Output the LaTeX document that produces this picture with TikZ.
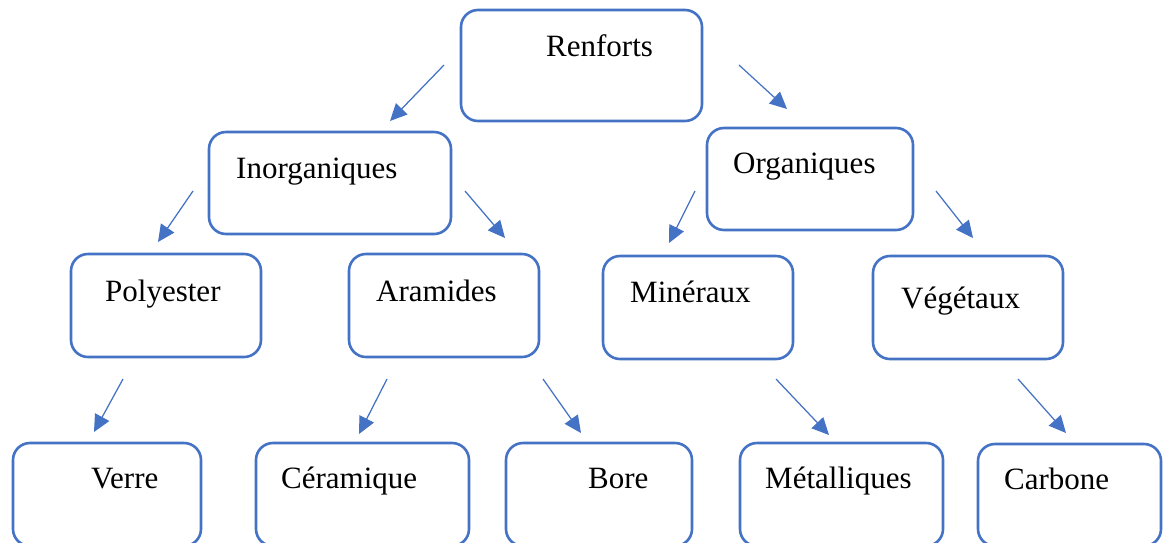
\documentclass[tikz,border=0pt]{standalone}
\usepackage{fontspec}
\setmainfont{Liberation Serif}
\usetikzlibrary{arrows.meta}
\definecolor{boxblue}{HTML}{4472C4}
\tikzset{
  box/.style={draw=boxblue, line width=2.6pt, rounded corners=17pt, fill=white, inner sep=0pt},
  txt/.style={anchor=base west, inner sep=0pt, font=\fontsize{31pt}{36pt}\selectfont},
  arr/.style={draw=boxblue, line width=1.25pt, -{Triangle[length=17pt,width=16pt]}}
}
\begin{document}
\begin{tikzpicture}[x=1pt,y=-1pt]
\useasboundingbox (0,0) rectangle (1164,542);
\clip (0,0) rectangle (1164,542);
\fill[white] (0,0) rectangle (1164,542);
% boxes
\node[box, minimum width=241pt, minimum height=111pt] (ren) at (581.5,65.5) {};
\node[box, minimum width=242pt, minimum height=102pt] (ino) at (330,183) {};
\node[box, minimum width=206pt, minimum height=102pt] (org) at (810,179) {};
\node[box, minimum width=190pt, minimum height=103pt] (pol) at (166,305.5) {};
\node[box, minimum width=190pt, minimum height=103pt] (ara) at (444,305.5) {};
\node[box, minimum width=190pt, minimum height=103pt] (min) at (698,307.5) {};
\node[box, minimum width=190pt, minimum height=103pt] (veg) at (968,307.5) {};
\node[box, minimum width=188pt, minimum height=103pt] (ver) at (107,494.5) {};
\node[box, minimum width=213pt, minimum height=103pt] (cer) at (362.5,494.5) {};
\node[box, minimum width=186pt, minimum height=103pt] (bor) at (599,494.5) {};
\node[box, minimum width=203pt, minimum height=103pt] (met) at (841.5,494.5) {};
\node[box, minimum width=183pt, minimum height=102pt] (car) at (1069.5,495) {};
% texts
\node[txt] (tren) at (546,56) {Renforts};
\node[txt] (tino) at (236,178) {Inorganiques};
\node[txt] (torg) at (733,173) {Organiques};
\node[txt] (tpol) at (105,301) {Polyester};
\node[txt] (tara) at (376,301) {Aramides};
\node[txt] (tmin) at (630,302) {Minéraux};
\node[txt] (tveg) at (901,308) {Végétaux};
\node[txt] (tver) at (91,488) {Verre};
\node[txt] (tcer) at (281,488) {Céramique};
\node[txt] (tbor) at (588,488) {Bore};
\node[txt] (tmet) at (765,488) {Métalliques};
\node[txt] (tcar) at (1004,489) {Carbone};
% arrow end points
\coordinate (s1) at (444,65);   \coordinate (e1) at (390,121);
\coordinate (s2) at (739,65);   \coordinate (e2) at (787,109);
\coordinate (s3) at (193,191);  \coordinate (e3) at (158,242);
\coordinate (s4) at (465,191);  \coordinate (e4) at (505,238);
\coordinate (s5) at (695,191);  \coordinate (e5) at (669,243);
\coordinate (s6) at (936,191);  \coordinate (e6) at (973,238);
\coordinate (s7) at (123,379);  \coordinate (e7) at (94,432);
\coordinate (s8) at (387,379);  \coordinate (e8) at (359,434);
\coordinate (s9) at (543,379);  \coordinate (e9) at (581,433);
\coordinate (s10) at (776,379); \coordinate (e10) at (829,435);
\coordinate (s11) at (1018,379); \coordinate (e11) at (1066,433);
\foreach \i in {1,...,11} { \draw[arr] (s\i) -- (e\i); }
\end{tikzpicture}
\end{document}
